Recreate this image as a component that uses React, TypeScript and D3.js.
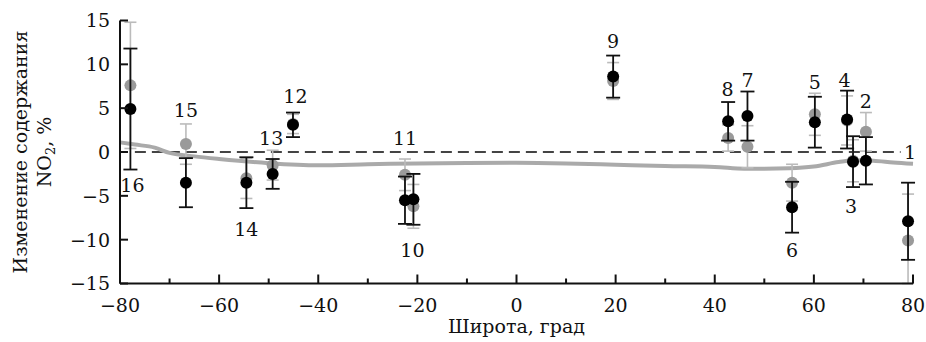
import * as d3 from 'd3';

// station numbers, latitude, black (observed) and gray (model) values with errors
const stations = [1, 2, 3, 4, 5, 6, 7, 8, 9, 10, 11, 12, 13, 14, 15, 16];
const latitudes = [79.0, 70.5, 67.9, 66.7, 60.2, 55.6, 46.6, 42.7, 19.5, -20.8, -22.5, -45.1, -49.2, -54.5, -66.7, -77.9];
const blackValues = [-7.9, -1.0, -1.1, 3.7, 3.4, -6.3, 4.1, 3.5, 8.6, -5.4, -5.5, 3.1, -2.5, -3.5, -3.5, 4.9];
const blackErrors = [4.4, 2.7, 2.9, 3.3, 2.9, 2.9, 2.8, 2.2, 2.4, 2.9, 2.7, 1.4, 1.7, 2.9, 2.8, 6.9];
const grayValues = [-10.1, 2.3, -1.0, 3.6, 4.3, -3.5, 0.6, 1.6, 8.1, -6.2, -2.6, 3.2, -1.5, -3.0, 0.9, 7.6];
const grayErrors = [5.3, 2.2, 2.4, 2.8, 2.4, 2.1, 2.4, 1.5, 2.1, 2.5, 1.8, 1.1, 1.7, 2.3, 2.3, 7.2];

// where the station numbers sit (data units)
const labelLat = [79.0, 70.5, 67.5, 66.2, 60.2, 55.6, 46.6, 42.6, 19.5, -21.0, -22.5, -44.6, -49.5, -54.5, -66.7, -77.5];
const labelVal = [0.0, 5.8, -6.2, 8.2, 7.9, -11.2, 8.2, 7.1, 12.6, -11.2, 1.6, 6.3, 1.6, -8.8, 4.8, -3.8];

// model curve
const curveLat = [-80, -77, -73, -70, -65, -60, -50, -40, -30, -20, -10, 0, 10, 20, 30, 40, 46, 50, 55, 60, 65, 68, 72, 76, 80];
const curveVal = [1.1, 0.85, 0.5, -0.1, -0.5, -0.8, -1.27, -1.5, -1.4, -1.3, -1.25, -1.23, -1.3, -1.45, -1.6, -1.7, -1.9, -1.9, -1.85, -1.65, -1.15, -0.95, -1.0, -1.2, -1.35];

const xTicksMajor = [-80, -60, -40, -20, 0, 20, 40, 60, 80];
const xTicksMinor = [-70, -50, -30, -10, 10, 30, 50, 70];
const yTicks = [-15, -10, -5, 0, 5, 10, 15];

const fmt = (v: number) => (v < 0 ? '\u2212' + Math.abs(v) : String(v));

export default function App() {
  const width = 926;
  const height = 342;
  const x = d3.scaleLinear().domain([-80, 80]).range([120, 913]);
  const y = d3.scaleLinear().domain([-15, 15]).range([283.5, 20.5]);
  const clampY = (v: number) => y(Math.max(-15, Math.min(15, v)));
  const font = '"DejaVu Serif", serif';
  const fs = 19;

  const curve = d3.line<number>()
    .x((d, i) => x(curveLat[i]))
    .y((d) => y(d))
    .curve(d3.curveMonotoneX)(curveVal);

  const errBar = (lat: number, v: number, e: number, color: string, w: number, cap: number, key: string) => (
    <g key={key} stroke={color} strokeWidth={w}>
      <line x1={x(lat)} x2={x(lat)} y1={clampY(v + e)} y2={clampY(v - e)} />
      <line x1={x(lat) - cap} x2={x(lat) + cap} y1={clampY(v + e)} y2={clampY(v + e)} />
      <line x1={x(lat) - cap} x2={x(lat) + cap} y1={clampY(v - e)} y2={clampY(v - e)} />
    </g>
  );

  return (
    <svg width={width} height={height} style={{ position: 'absolute', left: 0, top: 0, background: '#fff' }}>
      {/* zero line */}
      <line x1={x(-77)} x2={x(77.5)} y1={y(0)} y2={y(0)} stroke="#444" strokeWidth={1.8} strokeDasharray="11 6" />
      {/* model curve */}
      <path d={curve!} fill="none" stroke="#aaa" strokeWidth={4} />

      {/* gray error bars + points */}
      {stations.map((s, i) => errBar(latitudes[i], grayValues[i], grayErrors[i], '#bbb', 1.6, 6, 'ge' + s))}
      {stations.map((s, i) => (
        <circle key={'gp' + s} cx={x(latitudes[i])} cy={y(grayValues[i])} r={6} fill="#9a9a9a" />
      ))}

      {/* black error bars + points */}
      {stations.map((s, i) => errBar(latitudes[i], blackValues[i], blackErrors[i], '#111', 1.8, 7, 'be' + s))}
      {stations.map((s, i) => (
        <circle key={'bp' + s} cx={x(latitudes[i])} cy={y(blackValues[i])} r={6} fill="#000" />
      ))}

      {/* station labels */}
      {stations.map((s, i) => (
        <text key={'lb' + s} x={s === 1 ? x(latitudes[i]) + 2 : x(labelLat[i])} y={y(labelVal[i])} dy="0.35em"
          textAnchor="middle" fontFamily={font} fontSize={fs} fill="#111">{s}</text>
      ))}

      {/* axes */}
      <g stroke="#111" strokeWidth={2} fill="none">
        <line x1={x(-80)} x2={x(80)} y1={y(-15)} y2={y(-15)} />
        <line x1={x(-80)} x2={x(-80)} y1={y(-15)} y2={y(15)} />
        {xTicksMajor.map((t) => (
          <line key={'xM' + t} x1={x(t)} x2={x(t)} y1={y(-15)} y2={y(-15) - 9} />
        ))}
        {xTicksMinor.map((t) => (
          <line key={'xm' + t} x1={x(t)} x2={x(t)} y1={y(-15)} y2={y(-15) - 5} />
        ))}
        {yTicks.map((t) => (
          <line key={'y' + t} x1={x(-80)} x2={x(-80) + 8} y1={y(t)} y2={y(t)} />
        ))}
      </g>
      {xTicksMajor.map((t) => (
        <text key={'xl' + t} x={x(t)} y={y(-15) + 28} textAnchor="middle" fontFamily={font} fontSize={fs} fill="#111">{fmt(t)}</text>
      ))}
      {yTicks.map((t) => (
        <text key={'yl' + t} x={x(-80) - 10} y={y(t)} dy="0.36em" textAnchor="end" fontFamily={font} fontSize={fs} fill="#111">{fmt(t)}</text>
      ))}

      {/* axis titles */}
      <text x={x(0)} y={333} textAnchor="middle" fontFamily={font} fontSize={fs} fill="#111">Широта, град</text>
      <g transform={`translate(27, ${y(0)}) rotate(-90)`}>
        <text x={0} y={0} textAnchor="middle" fontFamily={font} fontSize={fs} fill="#111">Изменение содержания</text>
        <text x={0} y={24} textAnchor="middle" fontFamily={font} fontSize={fs} fill="#111">
          NO<tspan fontSize={13} dy={4}>2</tspan><tspan dy={-4}>, %</tspan>
        </text>
      </g>
    </svg>
  );
}
